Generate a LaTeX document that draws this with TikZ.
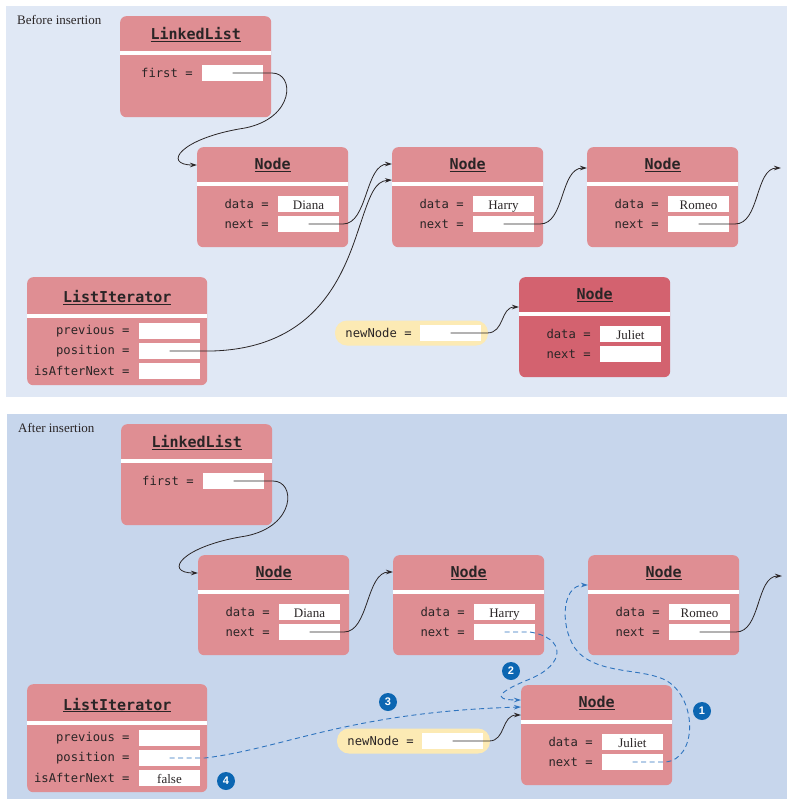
\documentclass[tikz,border=0pt]{standalone}
\usepackage{fontspec}
\setmonofont{DejaVu Sans Mono}
\newfontfamily\valfont{Liberation Serif}
\newfontfamily\badgefont{Liberation Sans}
\usetikzlibrary{arrows.meta}
\definecolor{bgtop}{HTML}{E0E8F5}
\definecolor{bgbot}{HTML}{C7D6EC}
\definecolor{boxfill}{HTML}{DF8E93}
\definecolor{boxdark}{HTML}{D3626F}
\definecolor{pillfill}{HTML}{FCEAB4}
\definecolor{ink}{HTML}{2A2526}
\definecolor{dashblue}{HTML}{2F74BE}
\definecolor{badgeblue}{HTML}{0B66B2}
\tikzset{
  objbox/.style={draw=none, rounded corners=6pt, minimum width=151pt, minimum height=100pt, inner sep=0pt},
  sepline/.style={white, line width=4pt},
  ttl/.style={font=\ttfamily\bfseries\fontsize{15}{17}\selectfont, text=ink, inner sep=0pt},
  fld/.style={fill=white, minimum width=61pt, minimum height=16pt, inner sep=0pt, text height=10pt, text depth=0pt, font=\valfont\fontsize{13}{15}\selectfont, text=ink},
  lbl/.style={anchor=east, font=\ttfamily\fontsize{12.2}{14}\selectfont, text=ink, inner sep=0pt},
  pill/.style={fill=pillfill, rounded corners=12pt, minimum width=153pt, minimum height=25pt, inner sep=0pt},
  conn/.style={draw=ink, line width=0.8pt, -{Stealth[length=7pt,width=4.5pt]}},
  dconn/.style={draw=dashblue, line width=0.9pt, dash pattern=on 5pt off 3.5pt, -{Stealth[length=7pt,width=4.5pt,fill=dashblue]}},
  badge/.style={circle, fill=badgeblue, text=white, minimum size=18pt, inner sep=0pt, font=\badgefont\bfseries\fontsize{11}{12}\selectfont},
  panellbl/.style={anchor=west, font=\valfont\fontsize{13}{15}\selectfont, text=ink, inner sep=0pt}
}
\newcommand\mkNode[4]{%
  \node[objbox, fill=#3, anchor=north west] (#1) at (#2) {};
  \draw[sepline] ([yshift=-37pt]#1.north west) -- ([yshift=-37pt]#1.north east);
  \node[ttl] at ([yshift=-18pt]#1.north) {\underline{Node}};
  \node[fld] (#1-data) at ([xshift=111.5pt, yshift=-57pt]#1.north west) {#4};
  \node[fld] (#1-next) at ([xshift=111.5pt, yshift=-77pt]#1.north west) {};
  \node[lbl] at ([xshift=-9pt]#1-data.west) {data =};
  \node[lbl] at ([xshift=-9pt]#1-next.west) {next =};
}
\newcommand\mkList[2]{%
  \node[objbox, fill=boxfill, anchor=north west, minimum height=101pt] (#1) at (#2) {};
  \draw[sepline] ([yshift=-36.5pt]#1.north west) -- ([yshift=-36.5pt]#1.north east);
  \node[ttl] at ([yshift=-19pt]#1.north) {\underline{LinkedList}};
  \node[fld] (#1-first) at ([xshift=112.5pt, yshift=-57pt]#1.north west) {};
  \node[lbl] at ([xshift=-9pt]#1-first.west) {first =};
}
\newcommand\mkIter[3]{%
  \node[objbox, fill=boxfill, anchor=north west, minimum width=180pt, minimum height=108pt] (#1) at (#2) {};
  \draw[sepline] ([yshift=-38.5pt]#1.north west) -- ([yshift=-38.5pt]#1.north east);
  \node[ttl] at ([yshift=-21pt]#1.north) {\underline{ListIterator}};
  \node[fld] (#1-prev) at ([xshift=142.5pt, yshift=-54pt]#1.north west) {};
  \node[fld] (#1-pos) at ([xshift=142.5pt, yshift=-74pt]#1.north west) {};
  \node[fld] (#1-after) at ([xshift=142.5pt, yshift=-94pt]#1.north west) {#3};
  \node[lbl] at ([xshift=-9pt]#1-prev.west) {previous =};
  \node[lbl] at ([xshift=-9pt]#1-pos.west) {position =};
  \node[lbl] at ([xshift=-9pt]#1-after.west) {isAfterNext =};
}
\newcommand\mkPill[2]{%
  \node[pill] (#1) at (#2) {};
  \node[fld] (#1-f) at ([xshift=39pt]#1.center) {};
  \node[lbl] at ([xshift=-8pt]#1-f.west) {newNode =};
}
\begin{document}
\begin{tikzpicture}[x=1pt,y=-1pt]
\useasboundingbox (0,0) rectangle (793,807);
% panels
\fill[bgtop] (6,6) rectangle (787,397);
\fill[bgbot] (7,414) rectangle (787,799);
\node[panellbl] (lblA) at (17,20) {Before insertion};
\node[panellbl] (lblB) at (18,428) {After insertion};

% ---------- top panel ----------
\mkList{llA}{120,16}
\mkNode{diA}{197,147}{boxfill}{Diana}
\mkNode{haA}{392,147}{boxfill}{Harry}
\mkNode{roA}{587,147}{boxfill}{Romeo}
\mkNode{juA}{519,277}{boxdark}{Juliet}
\mkIter{itA}{27,277}{}
\mkPill{nnA}{411.5,333}
\coordinate (offA) at (781,168);

\draw[conn] (llA-first.center) -- (272,73) .. controls (295,73) and (295,118) .. (245,128) .. controls (180,138) and (162,165) .. ([yshift=-18pt]diA.north west);
\draw[conn] (diA-next.center) -- (343,224) .. controls (368,224) and (365,164) .. ([yshift=-17pt]haA.north west);
\draw[conn] (itA-pos.center) -- (212,351) .. controls (320,348) and (345,270) .. (360,225) .. controls (370,195) and (375,181) .. ([yshift=-33pt]haA.north west);
\draw[conn] (haA-next.center) -- (540,224) .. controls (565,224) and (560,168) .. ([yshift=-21pt]roA.north west);
\draw[conn] (roA-next.center) -- (735,224) .. controls (760,224) and (755,168) .. (offA);
\draw[conn] (nnA-f.center) -- (487,333) .. controls (505,333) and (500,307) .. ([yshift=-30pt]juA.north west);

% ---------- bottom panel ----------
\mkList{llB}{121,424}
\mkNode{diB}{198,555}{boxfill}{Diana}
\mkNode{haB}{393,555}{boxfill}{Harry}
\mkNode{roB}{588,555}{boxfill}{Romeo}
\mkNode{juB}{521,685}{boxfill}{Juliet}
\mkIter{itB}{27,684}{false}
\mkPill{nnB}{413.5,741}
\coordinate (offB) at (782,576);

\draw[conn] (llB-first.center) -- (273,481) .. controls (296,481) and (296,526) .. (246,536) .. controls (181,546) and (163,573) .. ([yshift=-18pt]diB.north west);
\draw[conn] (diB-next.center) -- (344,632) .. controls (369,632) and (366,572) .. ([yshift=-17pt]haB.north west);
\draw[conn] (roB-next.center) -- (736,632) .. controls (761,632) and (756,576) .. (offB);
\draw[conn] (nnB-f.center) -- (489,741) .. controls (506,741) and (501,715) .. ([yshift=-30pt]juB.north west);

\draw[dconn] (juB-next.center) -- (665,762) .. controls (697,760) and (698,700) .. (667,681) .. controls (645,668) and (600,675) .. (578,652) .. controls (560,632) and (560,585) .. ([yshift=-30pt]roB.north west);
\draw[dconn] (haB-next.center) -- (530,632) .. controls (566,638) and (566,664) .. (530,679) .. controls (500,691) and (490,700) .. ([yshift=-15pt]juB.north west);
\draw[dconn] (itB-pos.center) -- (205,758) .. controls (285,748) and (350,712) .. ([yshift=-22pt]juB.north west);

\node[badge] (b1) at (702,711) {1};
\node[badge] (b2) at (511,671) {2};
\node[badge] (b3) at (388,702) {3};
\node[badge] (b4) at (226,781) {4};
\end{tikzpicture}
\end{document}
